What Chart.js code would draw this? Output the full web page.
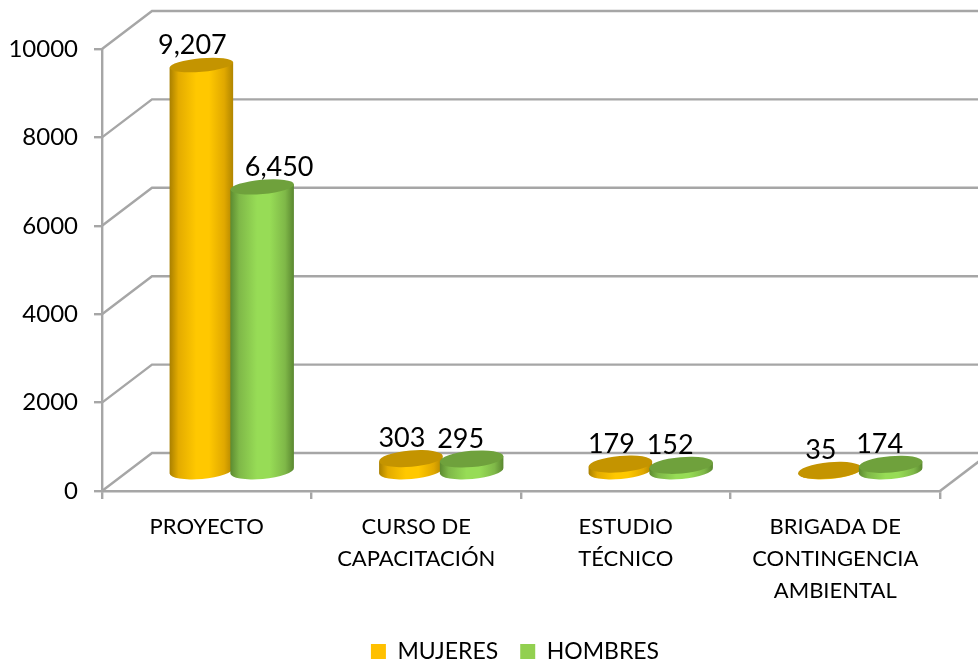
<!DOCTYPE html>
<html>
<head>
<meta charset="utf-8">
<script src="https://cdn.jsdelivr.net/npm/chart.js@4"></script>
<style>html,body{margin:0;padding:0;background:#fff}#w{width:978px;height:661px}</style>
</head>
<body>
<div id="w"><canvas id="c" width="978" height="661"></canvas></div>
<script>
const categories = [
  'PROYECTO',
  ['CURSO DE', 'CAPACITACIÓN'],
  ['ESTUDIO', 'TÉCNICO'],
  ['BRIGADA DE', 'CONTINGENCIA', 'AMBIENTAL']
];
const mujeres = [9207, 303, 179, 35];
const hombres = [6450, 295, 152, 174];
const seriesNames = ['MUJERES', 'HOMBRES'];
const seriesColors = ['#FFC000', '#92D050'];

const FONT = 'Lato, Carlito, sans-serif';
const GRID = '#A6A6A6';
const DEPTH_X = 50, DEPTH_Y = 38;
const looks = [
  {top:'#C49400', stops:['#A87F00','#E3AB00','#FFC800','#FFC800','#E0A800','#B08500']},
  {top:'#6FA13C', stops:['#5C8A30','#7FB848','#97DC56','#97DC56','#7FB848','#5A8730']}
];
const labelShift = {x:[-9,-11], y:-20};
const oddLabel = {dataset:1, index:0, x:17, y:-20};

const scene = {
  id:'scene',
  afterLayout(chart){
    const lg = chart.legend;
    lg.left += 45; lg.right += 45;
    lg.top += 12; lg.bottom += 12;
    lg.adjustHitBoxes();
  },
  beforeDatasetsDraw(chart){
    const {ctx, scales:{x,y}} = chart;
    const L = x.left, R = x.right;
    ctx.save();
    ctx.strokeStyle = GRID; ctx.lineWidth = 2.4; ctx.lineCap='butt';
    y.ticks.forEach(t=>{
      const py = y.getPixelForValue(t.value);
      ctx.beginPath();
      ctx.moveTo(L,py);
      ctx.lineTo(L+DEPTH_X,py-DEPTH_Y);
      ctx.lineTo(chart.width,py-DEPTH_Y);
      ctx.stroke();
    });
    const p0 = y.getPixelForValue(0);
    ctx.beginPath();
    ctx.moveTo(R,p0);
    ctx.lineTo(R+DEPTH_X,p0-DEPTH_Y);
    ctx.stroke();
    ctx.restore();
  },
  beforeDatasetDraw(){ return false; },
  afterDatasetsDraw(chart){
    const {ctx} = chart;
    const y0 = chart.scales.y.getPixelForValue(0);
    const yMax = chart.scales.y.getPixelForValue(10000);
    const rot = -5*Math.PI/180;
    const count = chart.data.labels.length;
    for(let i=0;i<count;i++){
      [0,1].forEach(d=>{
        const el = chart.getDatasetMeta(d).data[i];
        const cx = el.x + DEPTH_X/2;
        const rx = el.width/2;
        const baseY = el.base - DEPTH_Y/2;
        const topY = el.y - DEPTH_Y/2;
        const ryAt = v => 8.2 - 1.6*(y0 - v)/(y0 - yMax);
        const ryB = ryAt(el.base), ryT = ryAt(el.y);
        const dx = rx*Math.cos(rot), dy = rx*Math.sin(rot);
        const g = ctx.createLinearGradient(cx-rx,0,cx+rx,0);
        const s = looks[d].stops;
        [0,0.14,0.42,0.62,0.86,1].forEach((p,k)=>g.addColorStop(p,s[k]));
        ctx.save();
        ctx.fillStyle = g;
        ctx.beginPath();
        ctx.moveTo(cx-dx,topY-dy);
        ctx.lineTo(cx-dx,baseY-dy);
        ctx.ellipse(cx,baseY,rx,ryB,rot,Math.PI,0,true);
        ctx.lineTo(cx+dx,topY+dy);
        ctx.closePath();
        ctx.fill();
        ctx.fillStyle = looks[d].top;
        ctx.beginPath();
        ctx.ellipse(cx,topY,rx,ryT,rot,0,Math.PI*2);
        ctx.fill();
        ctx.restore();
      });
    }
    ctx.save();
    ctx.font = '27px '+FONT;
    ctx.fillStyle = '#000';
    ctx.textAlign = 'center';
    ctx.textBaseline = 'middle';
    for(let i=0;i<count;i++){
      [0,1].forEach(d=>{
        const el = chart.getDatasetMeta(d).data[i];
        const odd = oddLabel.dataset===d && oddLabel.index===i;
        const lx = el.x + DEPTH_X/2 + (odd?oddLabel.x:labelShift.x[d]);
        const ly = el.y - DEPTH_Y/2 + (odd?oddLabel.y:labelShift.y);
        ctx.fillText(chart.data.datasets[d].data[i].toLocaleString('en-US'),lx,ly);
      });
    }
    ctx.restore();
  }
};

new Chart(document.getElementById('c'),{
  type:'bar',
  data:{
    labels:categories,
    datasets:[
      {label:seriesNames[0],data:mujeres,backgroundColor:seriesColors[0]},
      {label:seriesNames[1],data:hombres,backgroundColor:seriesColors[1]}
    ]
  },
  plugins:[scene],
  options:{
    responsive:false,
    animation:false,
    layout:{padding:{top:49,right:38,left:0,bottom:0}},
    categoryPercentage:0.58,
    barPercentage:1.05,
    plugins:{
      tooltip:{enabled:false},
      legend:{
        position:'bottom',
        labels:{
          boxWidth:15,boxHeight:15,padding:22,color:'#000',
          font:{family:FONT,size:23}
        }
      }
    },
    scales:{
      x:{
        offset:true,
        grid:{drawOnChartArea:false,color:GRID,lineWidth:2.4,tickLength:8,offset:true},
        border:{color:GRID,width:2.4},
        ticks:{color:'#000',font:{family:FONT,size:22,lineHeight:1.4545},padding:12,maxRotation:0,autoSkip:false},
        afterFit(s){ s.height = 115; }
      },
      y:{
        min:0,max:10000,
        grid:{drawOnChartArea:false,color:GRID,lineWidth:2.4,tickLength:8},
        border:{color:GRID,width:2.4},
        ticks:{stepSize:2000,color:'#000',font:{family:FONT,size:24},padding:16,callback:v=>String(v)},
        afterFit(s){ s.width = 102; }
      }
    }
  }
});
</script>
</body>
</html>
